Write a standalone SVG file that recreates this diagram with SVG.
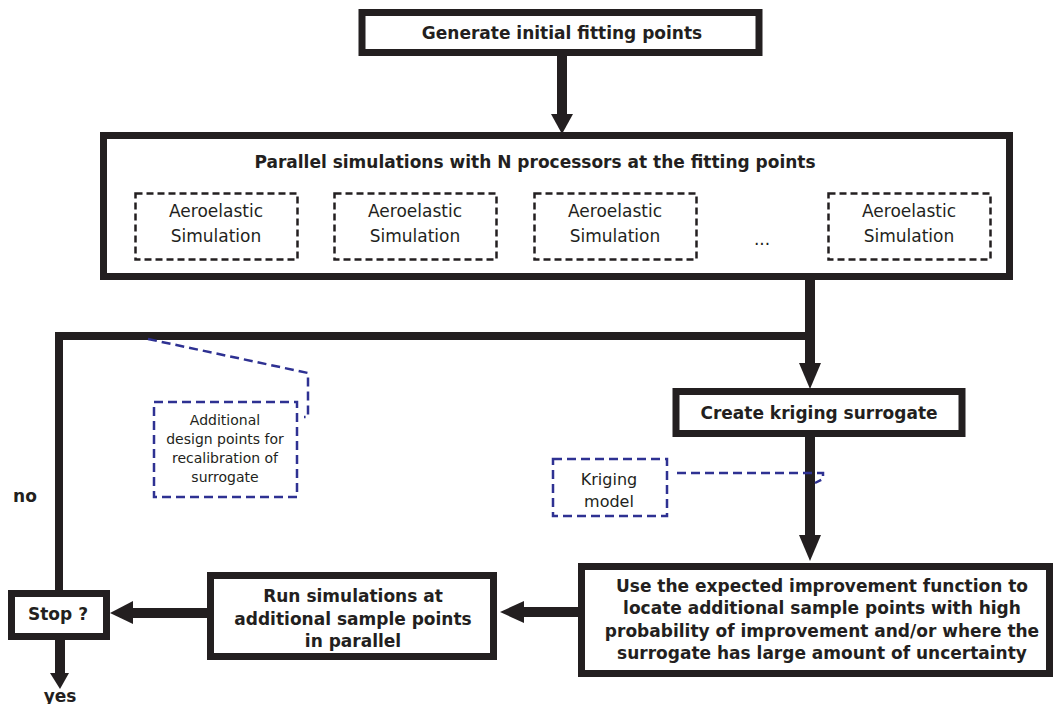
<svg xmlns="http://www.w3.org/2000/svg" width="1055" height="704" viewBox="0 0 1055 704">
<defs>
<style>
.box{fill:#fff;stroke:#231f20;stroke-width:7}
.dbox{fill:none;stroke:#231f20;stroke-width:2.5;stroke-dasharray:7 4}
.bbox{fill:none;stroke:#2e3192;stroke-width:2.5;stroke-dasharray:9 5}
.bl{fill:none;stroke:#2e3192;stroke-width:2.5;stroke-dasharray:9 5}
.ln{fill:none;stroke:#231f20;stroke-width:10}
.hd{fill:#231f20}
.tb{font-family:"DejaVu Sans",Verdana,sans-serif;font-weight:bold;font-size:17px;fill:#231f20;text-anchor:middle}
.tr{font-family:"DejaVu Sans",Verdana,sans-serif;font-size:17px;fill:#231f20;text-anchor:middle}
.ts{font-family:"DejaVu Sans",Verdana,sans-serif;font-size:14px;fill:#231f20;text-anchor:middle}
</style>
</defs>
<rect width="1055" height="704" fill="#fff"/>
<g id="connectors">
<line class="ln" x1="562" y1="56" x2="562" y2="116"/>
<polygon class="hd" points="551,114 573,114 562,134"/>
<line class="ln" x1="810" y1="279" x2="810" y2="365"/>
<polygon class="hd" points="799,363 821,363 810,389"/>
<polyline class="ln" points="814,336 59,336 59,592" style="stroke-width:8"/>
<line class="ln" x1="810" y1="436" x2="810" y2="537"/>
<polygon class="hd" points="799,535 821,535 810,561"/>
<line class="ln" x1="578" y1="612" x2="522" y2="612"/>
<polygon class="hd" points="524,601 524,623 500,612"/>
<line class="ln" x1="207" y1="613" x2="131" y2="613"/>
<polygon class="hd" points="133,601 133,624 110,613"/>
<line class="ln" x1="60" y1="638" x2="60" y2="675"/>
<polygon class="hd" points="50,673 69,673 60,689"/>
<path class="bl" d="M148,339 L308,373 L308,417 L304,417"/>
<path class="bl" d="M677,473 L823,473 L823,479 L815,483"/>
</g>
<g id="n-generate">
<rect class="box" x="362" y="12.5" width="397" height="40"/>
<text class="tb" x="562" y="39">Generate initial fitting points</text>
</g>
<g id="n-parallel">
<rect class="box" x="103.5" y="135.5" width="906" height="141"/>
<text class="tb" x="535" y="168">Parallel simulations with N processors at the fitting points</text>
</g>
<g id="n-sim1">
<rect class="dbox" x="135.5" y="193.5" width="162" height="66"/>
<text class="tr" x="216" y="217">Aeroelastic</text>
<text class="tr" x="216" y="242">Simulation</text>
</g>
<g id="n-sim2">
<rect class="dbox" x="334.5" y="193.5" width="162" height="66"/>
<text class="tr" x="415" y="217">Aeroelastic</text>
<text class="tr" x="415" y="242">Simulation</text>
</g>
<g id="n-sim3">
<rect class="dbox" x="534.5" y="193.5" width="162" height="66"/>
<text class="tr" x="615" y="217">Aeroelastic</text>
<text class="tr" x="615" y="242">Simulation</text>
</g>
<g id="n-dots">
<text class="tr" x="762" y="245">...</text>
</g>
<g id="n-sim4">
<rect class="dbox" x="828.5" y="193.5" width="162" height="66"/>
<text class="tr" x="909" y="217">Aeroelastic</text>
<text class="tr" x="909" y="242">Simulation</text>
</g>
<g id="n-kriging">
<rect class="box" x="676" y="391.5" width="286" height="42"/>
<text class="tb" x="819" y="419">Create kriging surrogate</text>
</g>
<g id="n-additional">
<rect class="bbox" x="154" y="402" width="143" height="95"/>
<text class="ts" x="225" y="425">Additional</text>
<text class="ts" x="225" y="444">design points for</text>
<text class="ts" x="225" y="463">recalibration of</text>
<text class="ts" x="225" y="482">surrogate</text>
</g>
<g id="n-model">
<rect class="bbox" x="553" y="459" width="114" height="57"/>
<text class="tr" x="609" y="485" style="font-size:16px">Kriging</text>
<text class="tr" x="609" y="507" style="font-size:16px">model</text>
</g>
<g id="n-use">
<rect class="box" x="581.5" y="566.5" width="468" height="107"/>
<text class="tb" x="822" y="592">Use the expected improvement function to</text>
<text class="tb" x="822" y="614">locate additional sample points with high</text>
<text class="tb" x="822" y="637">probability of improvement and/or where the</text>
<text class="tb" x="822" y="659">surrogate has large amount of uncertainty</text>
</g>
<g id="n-run">
<rect class="box" x="210.5" y="575.5" width="283" height="81"/>
<text class="tb" x="353" y="602">Run simulations at</text>
<text class="tb" x="353" y="625">additional sample points</text>
<text class="tb" x="353" y="647">in parallel</text>
</g>
<g id="n-stop">
<rect class="box" x="11.5" y="593.5" width="95" height="43"/>
<text class="tb" x="58" y="620">Stop ?</text>
</g>
<g id="n-labels">
<text class="tb" x="25" y="502">no</text>
<text class="tb" x="60" y="702">yes</text>
</g>
</svg>
